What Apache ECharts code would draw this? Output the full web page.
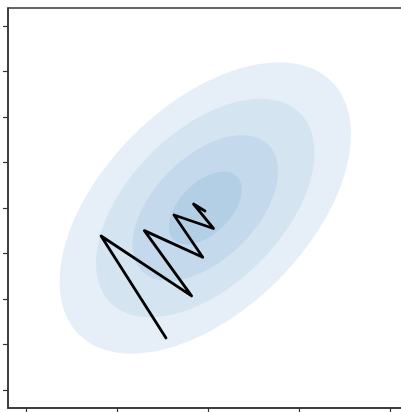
<!DOCTYPE html>
<html>
<head>
<meta charset="utf-8">
<script src="https://cdn.jsdelivr.net/npm/echarts@6/dist/echarts.min.js"></script>
<style>
html,body{margin:0;padding:0;background:#fff;}
#chart{width:401px;height:412px;}
</style>
</head>
<body>
<div id="chart"></div>
<script>
// Tick positions (no labels shown)
const xTicks = [-2, -1, 0, 1, 2];
const yTicks = [-2, -1.5, -1, -0.5, 0, 0.5, 1, 1.5, 2];

// Gaussian contour description: centre, principal std devs, rotation (deg)
const contourCenter = [-0.03, 0.0];
const contourStd = [1.229, 0.704];
const contourAngle = [45];
// Contour band levels (Mahalanobis radius), outer to inner, and their fills
const contourLevels = [1.6, 1.2, 0.8, 0.4];
const contourColors = ['#e6eff8', '#d5e4f1', '#c4daec', '#b3cfe6'];

// Optimisation path (x, y)
const pathX = [-0.462, -1.176, -0.181, -0.700, -0.058, -0.374, 0.060, -0.159, -0.033];
const pathY = [-1.429, -0.308, -0.967, -0.249, -0.542, -0.077, -0.225, 0.044, -0.033];

const pathData = pathX.map((x, i) => [x, pathY[i]]);
const levelData = contourLevels.map((r, i) => [i, r]);

const chart = echarts.init(document.getElementById('chart'), null, {renderer: 'canvas'});

const axisColor = '#333';

chart.setOption({
  animation: false,
  backgroundColor: '#fff',
  grid: {
    left: 8, top: 8, width: 400, height: 400,
    outerBoundsMode: 'none',
    containLabel: false,
    show: true, borderColor: axisColor, borderWidth: 1.5, backgroundColor: '#fff'
  },
  xAxis: {
    type: 'value', min: -2.2, max: 2.2,
    axisLine: {show: true, onZero: false, lineStyle: {color: axisColor, width: 1.5}},
    axisTick: {show: true, inside: false, length: 5, customValues: xTicks, lineStyle: {color: axisColor, width: 1.2}},
    axisLabel: {show: false, customValues: xTicks},
    splitLine: {show: false}
  },
  yAxis: {
    type: 'value', min: -2.2, max: 2.2,
    axisLine: {show: true, onZero: false, lineStyle: {color: axisColor, width: 1.5}},
    axisTick: {show: true, inside: false, length: 5, customValues: yTicks, lineStyle: {color: axisColor, width: 1.2}},
    axisLabel: {show: false, customValues: yTicks},
    splitLine: {show: false}
  },
  series: [
    {
      type: 'custom',
      clip: true,
      silent: true,
      data: levelData,
      renderItem: function (params, api) {
        const idx = api.value(0);
        const r = api.value(1);
        const a = contourAngle[0] * Math.PI / 180;
        const ca = Math.cos(a), sa = Math.sin(a);
        const pts = [];
        const n = 120;
        for (let k = 0; k < n; k++) {
          const t = 2 * Math.PI * k / n;
          const u = r * contourStd[0] * Math.cos(t);
          const v = r * contourStd[1] * Math.sin(t);
          const x = contourCenter[0] + u * ca - v * sa;
          const y = contourCenter[1] + u * sa + v * ca;
          pts.push(api.coord([x, y]));
        }
        return {
          type: 'polygon',
          shape: {points: pts},
          style: {fill: contourColors[idx], stroke: null},
          z2: idx
        };
      },
      z: 1
    },
    {
      type: 'line',
      data: pathData,
      symbol: 'none',
      lineStyle: {color: '#000', width: 2.8, join: 'round', cap: 'round'},
      z: 5
    }
  ]
});
</script>
</body>
</html>
